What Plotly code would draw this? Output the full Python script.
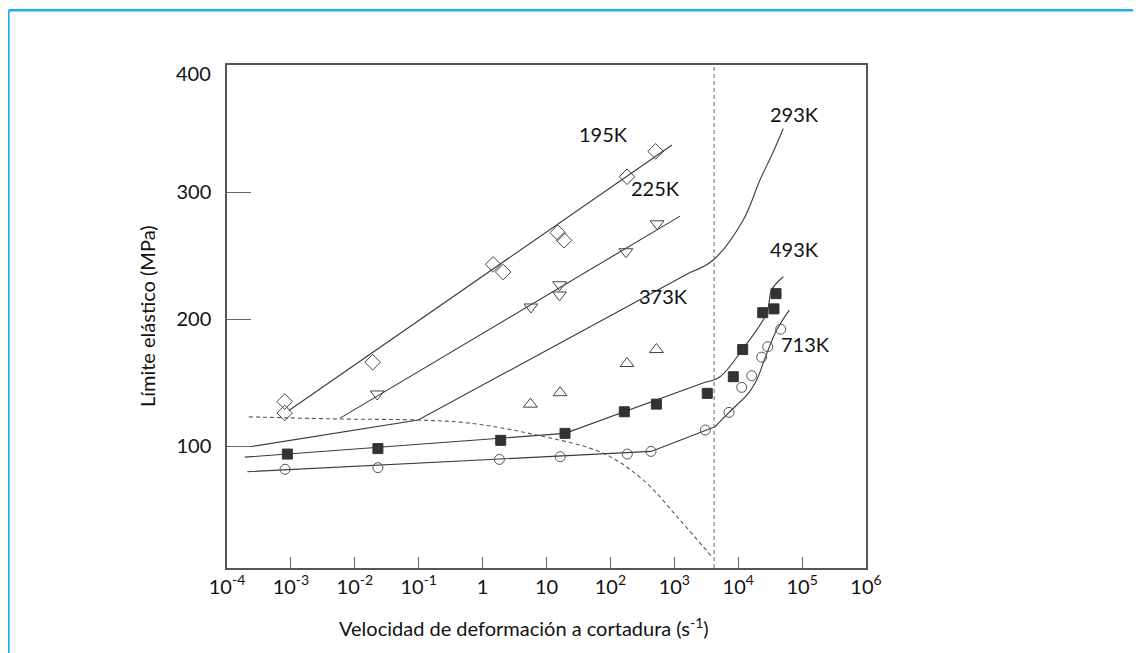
import math
import plotly.graph_objects as go

# ---------------- data ----------------
x_ticks = [1e-4, 1e-3, 1e-2, 1e-1, 1, 10, 1e2, 1e3, 1e4, 1e5, 1e6]
x_ticktext = ["10<sup>-4</sup>", "10<sup>-3</sup>", "10<sup>-2</sup>", "10<sup>-1</sup>", "1", "10",
              "10<sup>2</sup>", "10<sup>3</sup>", "10<sup>4</sup>", "10<sup>5</sup>", "10<sup>6</sup>"]
y_ticks = [100, 200, 300]
y_top_label = "400"

# 195 K (open diamonds) + fitted line
x195 = [8e-4, 8e-4, 0.019, 1.46, 2.1, 15, 18.8, 182, 510]
y195 = [135, 126, 166, 243, 237, 268, 262, 312, 332]
x195_line = [9.3e-4, 920]
y195_line = [128, 337]

# 225 K (open down-triangles) + fitted line
x225 = [0.0224, 5.7, 16, 16, 175, 537]
y225 = [141, 209.5, 227, 219, 253, 275]
x225_line = [0.0059, 1230]
y225_line = [122, 281]

# 373 K (open up-triangles)
x373 = [5.6, 16.3, 182, 525]
y373 = [133, 142, 165, 176]

# 293 K curve (no markers): straight part then curved part
x293_lin = [2.3e-4, 0.098, 1760]
y293_lin = [99.5, 120.5, 236.6]
x293_curve = [1760, 4070, 12000, 21900, 35400, 50800]
y293_curve = [236.6, 246.5, 278, 309.4, 331.7, 350]

# 493 K (filled squares) + curve
x493 = [8.8e-4, 0.023, 1.92, 19.5, 165, 525, 3280, 8380, 11750, 24200, 36300, 39100]
y493 = [93.7, 98, 104.5, 110, 127, 133, 141.5, 154.6, 176, 205, 208, 220]
x493_lin = [1.9e-4, 19.5, 3020]
y493_lin = [91.3, 110, 150.2]
x493_curve = [3020, 5190, 12000, 27900, 33400, 50800]
y493_curve = [150.2, 154.6, 177, 204.5, 223, 233.3]

# 713 K (open circles) + curve
x713 = [8.1e-4, 0.023, 1.83, 16.4, 184, 432, 3060, 7180, 11350, 16300, 23300, 29000, 46200]
y713 = [81.7, 83, 89.5, 91.6, 93.7, 95.8, 112.6, 126.5, 146.2, 155.4, 170, 178.2, 192]
x713_lin = [2.08e-4, 432, 4340]
y713_lin = [79.8, 95.8, 115.2]
x713_curve = [4340, 7180, 14400, 19500, 26200, 40000, 63100]
y713_curve = [115.2, 126.5, 141.5, 152, 169, 191.3, 207]

# dashed boundary curve
x_dash = [2.2e-4, 0.0059, 0.098, 0.635, 7.0, 77.4, 327, 1230, 3850]
y_dash = [123, 121.3, 120.5, 118, 108.7, 94.3, 73.2, 41.7, 13]

# dashed vertical line
x_vline = [4200, 4200]
y_vline = [4, 400]

# curve labels
lbl_text = ["195K", "225K", "293K", "373K", "493K", "713K"]
lbl_x = [79, 499, 77400, 680, 77400, 115000]
lbl_y = [345.7, 303, 361.4, 218, 255, 180.3]

# ---------------- figure ----------------
LINE = "#3a3a3a"
FONT = "Lato"
TXT = "#111111"
fig = go.Figure()


def add_line(x, y, shape="linear", dash="solid", color=LINE):
    ln = dict(color=color, width=1.1, shape=shape, dash=dash)
    if shape == "spline":
        ln["smoothing"] = 1.0
    fig.add_trace(go.Scatter(x=x, y=y, mode="lines", line=ln, showlegend=False, hoverinfo="skip"))


def add_markers(x, y, symbol, size, color, fill=None, lw=1):
    fig.add_trace(go.Scatter(x=x, y=y, mode="markers",
                             marker=dict(symbol=symbol, size=size, color=fill if fill else color,
                                         line=dict(color=color, width=lw)),
                             showlegend=False))


add_line(x195_line, y195_line)
add_line(x225_line, y225_line)
add_line(x293_lin, y293_lin)
add_line(x293_curve, y293_curve, shape="spline")
add_line(x493_lin, y493_lin)
add_line(x493_curve, y493_curve, shape="spline")
add_line(x713_lin, y713_lin)
add_line(x713_curve, y713_curve, shape="spline")
add_line(x_dash, y_dash, shape="spline", dash="4px,3px", color="#555555")
add_line(x_vline, y_vline, dash="4px,3px", color="#777777")

add_markers(x195, y195, "diamond-open", 12, "#444444")
add_markers(x225, y225, "triangle-down-open", 12, "#444444")
add_markers(x373, y373, "triangle-up-open", 12, "#444444")
add_markers(x493, y493, "square", 10, "#333333", fill="#333333")
add_markers(x713, y713, "circle-open", 10, "#555555")

for t, xv, yv in zip(lbl_text, lbl_x, lbl_y):
    fig.add_annotation(x=math.log10(xv), y=yv, xref="x", yref="y", text=t, showarrow=False,
                       font=dict(family=FONT, size=20, color=TXT))

# top y label (drawn slightly below the frame top, as in the source)
fig.add_annotation(x=-0.0219, y=400, xref="paper", yref="y", text=y_top_label, showarrow=False,
                   xanchor="right", yanchor="middle", yshift=-8,
                   font=dict(family=FONT, size=20, color=TXT))

# axis titles
fig.add_annotation(x=0.465, y=-0.117, xref="paper", yref="paper",
                   text="Velocidad de deformación a cortadura (s<sup>-1</sup>)", showarrow=False,
                   font=dict(family=FONT, size=20, color=TXT), xanchor="center", yanchor="middle")
fig.add_annotation(x=-0.125, y=0.501, xref="paper", yref="paper", text="Límite elástico (MPa)",
                   showarrow=False, textangle=-90,
                   font=dict(family=FONT, size=20, color=TXT), xanchor="center", yanchor="middle")

# blue outer frame (top and left edges)
BLUE = "#1fb0ea"
fig.add_shape(type="line", xref="paper", yref="paper", x0=-0.342, x1=1.418, y0=1.109, y1=1.109,
              line=dict(color=BLUE, width=2.5))
fig.add_shape(type="line", xref="paper", yref="paper", x0=-0.342, x1=-0.342, y0=1.109, y1=-0.17,
              line=dict(color=BLUE, width=2.5))

fig.update_xaxes(type="log", range=[-4, 6], tickvals=x_ticks, ticktext=x_ticktext,
                 ticks="inside", ticklen=11, tickcolor="#666666", tickwidth=1.3,
                 showline=True, linecolor="#555555", linewidth=1.5, mirror=True,
                 showgrid=False, zeroline=False,
                 tickfont=dict(family=FONT, size=20, color=TXT))
fig.update_yaxes(range=[4, 400], tickvals=y_ticks, ticks="inside", ticklen=24,
                 tickcolor="#666666", tickwidth=1.3,
                 showline=True, linecolor="#555555", linewidth=1.5, mirror=True,
                 showgrid=False, zeroline=False, ticklabelstandoff=10,
                 tickfont=dict(family=FONT, size=20, color=TXT))

# page body has an 8px margin, so the figure is sized/offset to compensate
fig.update_layout(width=1134, height=645, margin=dict(l=219, r=276, t=57, b=85, autoexpand=False),
                  paper_bgcolor="white", plot_bgcolor="white", showlegend=False,
                  font=dict(family=FONT))

fig.write_html("out.html")
